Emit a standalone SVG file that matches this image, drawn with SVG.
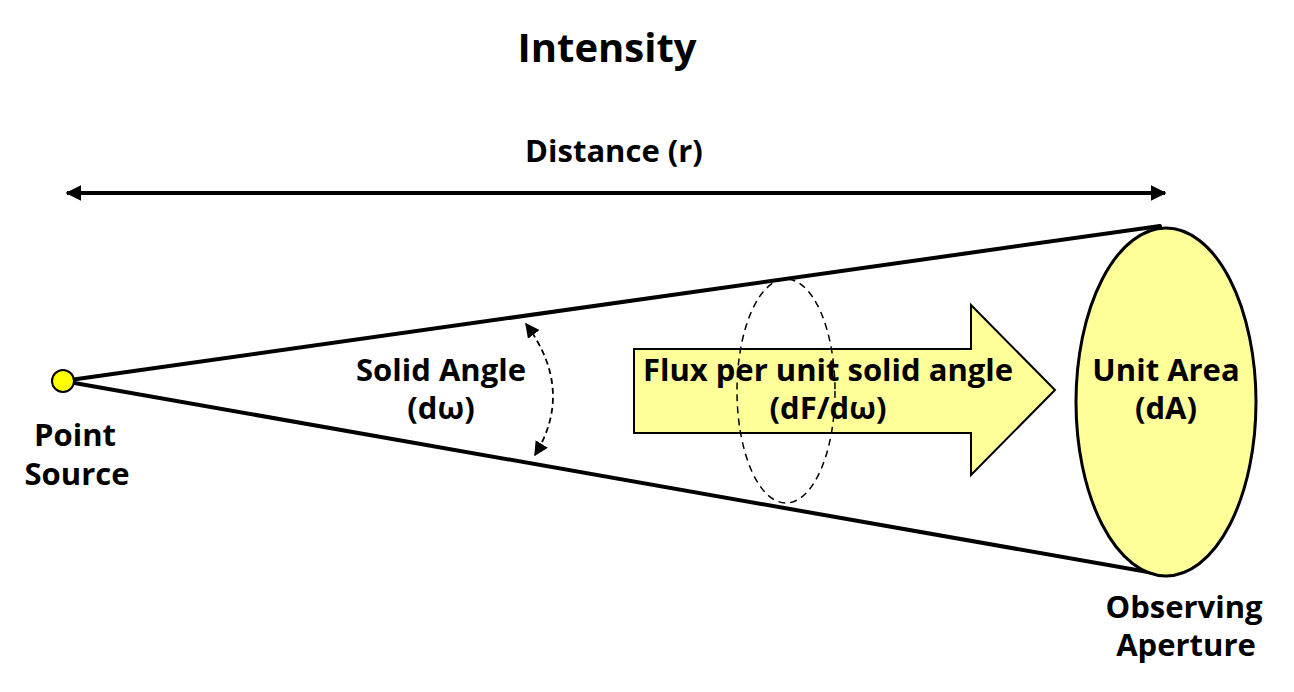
<svg xmlns="http://www.w3.org/2000/svg" width="1294" height="692" viewBox="0 0 1294 692">
<style>
.t{font-family:"Open Sans","Liberation Sans",sans-serif;font-weight:bold;fill:#000;text-anchor:middle}
.s30{font-size:31px}
.cone{stroke:#000;stroke-width:4;fill:none;stroke-linecap:round}
</style>
<defs>
<marker id="ah" viewBox="0 0 10 10" refX="9" refY="5" markerWidth="4" markerHeight="4" orient="auto-start-reverse" markerUnits="strokeWidth">
<path d="M0,0 L10,5 L0,10 Z" fill="#000"/>
</marker>
<marker id="ah2" viewBox="0 0 10 10" refX="9" refY="5" markerWidth="8" markerHeight="8" orient="auto-start-reverse" markerUnits="strokeWidth">
<path d="M0,0 L10,5 L0,10 Z" fill="#000"/>
</marker>
</defs>
<rect width="1294" height="692" fill="#fff"/>
<text class="t" x="607" y="62" font-size="40">Intensity</text>
<g id="connectors">
<line x1="67" y1="193" x2="1165" y2="193" stroke="#000" stroke-width="4" marker-start="url(#ah)" marker-end="url(#ah)"/>
<line class="cone" x1="63" y1="381" x2="1160" y2="226"/>
<line class="cone" x1="63" y1="381" x2="1165" y2="575"/>
<path d="M526,324 Q575,390 535,455" fill="none" stroke="#000" stroke-width="1.8" stroke-dasharray="6,4" marker-start="url(#ah2)" marker-end="url(#ah2)"/>
</g>
<text class="t s30" x="614" y="162">Distance (r)</text>
<g id="aperture">
<ellipse cx="1166" cy="402" rx="90" ry="174" fill="#FFFF99" stroke="#000" stroke-width="3"/>
<text class="t s30" x="1166" y="381">Unit Area</text>
<text class="t s30" x="1166" y="419">(dA)</text>
</g>
<g id="flux">
<path d="M634,349 H971 V305 L1055,390 L971,475 V433 H634 Z" fill="#FFFF99" stroke="#000" stroke-width="2"/>
<ellipse cx="786" cy="391" rx="49" ry="112" fill="none" stroke="#000" stroke-width="1.5" stroke-dasharray="7,5"/>
<text class="t s30" x="828" y="381">Flux per unit solid angle</text>
<text class="t s30" x="828" y="419">(dF/dω)</text>
</g>
<g id="source">
<circle cx="63" cy="381" r="11" fill="#FFFF00" stroke="#000" stroke-width="2"/>
<text class="t s30" x="75" y="446">Point</text>
<text class="t s30" x="77" y="485">Source</text>
</g>
<g id="solid-angle">
<text class="t s30" x="441" y="381">Solid Angle</text>
<text class="t s30" x="441" y="419">(dω)</text>
</g>
<g id="observing">
<text class="t s30" x="1184" y="618">Observing</text>
<text class="t s30" x="1186" y="656">Aperture</text>
</g>
</svg>
